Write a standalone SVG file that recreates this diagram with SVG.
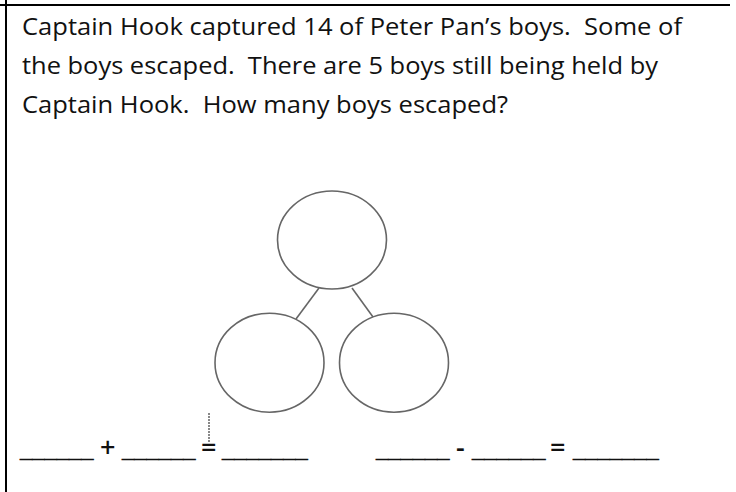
<svg xmlns="http://www.w3.org/2000/svg" width="736" height="492" viewBox="0 0 736 492">
<style>
.t{font-family:"Open Sans","Liberation Sans",sans-serif;font-size:24.5px;fill:#111}
.e{font-family:"Liberation Sans",sans-serif;font-size:22px;font-weight:bold;fill:#111;stroke:#111;stroke-width:0.5}
.o{font-family:"Open Sans","Liberation Sans",sans-serif;font-size:27px;font-weight:600;fill:#111}
.c{fill:none;stroke:#666;stroke-width:1.6}
.b{stroke:#000;stroke-width:2}
</style>
<rect width="736" height="492" fill="#fff"/>
<line class="b" x1="0" y1="5" x2="730" y2="5"/>
<line class="b" x1="6" y1="0" x2="6" y2="492"/>
<g id="question">
<text class="t" x="22" y="35" textLength="660" lengthAdjust="spacingAndGlyphs" xml:space="preserve">Captain Hook captured 14 of Peter Pan’s boys.  Some of</text>
<text class="t" x="22" y="74" textLength="636" lengthAdjust="spacingAndGlyphs" xml:space="preserve">the boys escaped.  There are 5 boys still being held by</text>
<text class="t" x="22" y="113" textLength="486" lengthAdjust="spacingAndGlyphs" xml:space="preserve">Captain Hook.  How many boys escaped?</text>
</g>
<g id="connectors">
<line class="c" x1="319" y1="288" x2="296" y2="319"/>
<line class="c" x1="352" y1="288" x2="373" y2="317"/>
</g>
<g id="whole"><ellipse class="c" cx="332" cy="240" rx="54.5" ry="49"/></g>
<g id="part-left"><ellipse class="c" cx="269.5" cy="362.7" rx="54.5" ry="49.5"/></g>
<g id="part-right"><ellipse class="c" cx="394" cy="362.7" rx="54.5" ry="49.5"/></g>
<g id="equations">
<line x1="209" y1="413" x2="209" y2="442" stroke="#888" stroke-width="2" stroke-dasharray="2 1"/>
<text class="e" x="20" y="457">______</text>
<text class="o" x="100" y="457">+</text>
<text class="e" x="122" y="457">______</text>
<text class="o" x="201" y="457">=</text>
<text class="e" x="222" y="457">_______</text>
<text class="e" x="376" y="457">______</text>
<text class="o" x="456" y="457">-</text>
<text class="e" x="472" y="457">______</text>
<text class="o" x="550" y="457">=</text>
<text class="e" x="573" y="457">_______</text>
</g>
</svg>
